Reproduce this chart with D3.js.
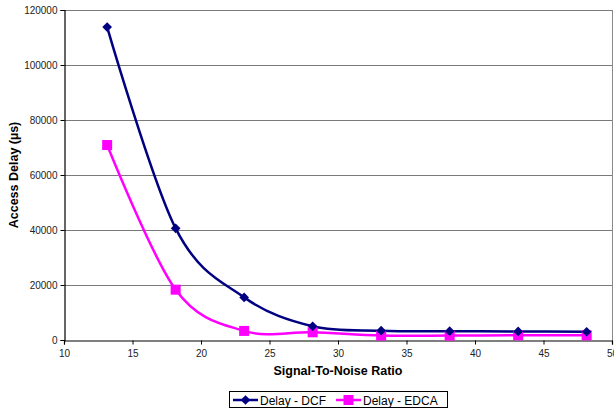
<!DOCTYPE html>
<html>
<head>
<meta charset="utf-8">
<script src="https://cdn.jsdelivr.net/npm/d3@7"></script>
<style>
  body { margin: 0; background: #fff; }
  svg text { font-family: "Liberation Sans", Arial, sans-serif; }
</style>
</head>
<body>
<div id="chart"></div>
<script>
// chart values
var snr = [13.15, 18.15, 23.15, 28.15, 33.15, 38.15, 43.15, 48.15];
var delayDCF  = [113800, 40600, 15500, 5000, 3400, 3200, 3100, 3000];
var delayEDCA = [70900, 18300, 3300, 2800, 1600, 1600, 1700, 1700];
var xTicks = [10, 15, 20, 25, 30, 35, 40, 45, 50];
var yTicks = [0, 20000, 40000, 60000, 80000, 100000, 120000];

var W = 614, H = 412;
var margin = {top: 10, left: 64, right: 2, bottom: 72},
    width  = W - margin.left - margin.right,
    height = H - margin.top - margin.bottom;

var svg = d3.select("#chart").append("svg")
    .attr("width", W)
    .attr("height", H);

var g = svg.append("g").attr("transform", "translate(" + margin.left + "," + margin.top + ")");

var x = d3.scaleLinear().domain([10, 50]).range([0, 548]),
    y = d3.scaleLinear().domain([0, 120000]).range([330, 0]);

// gridlines
g.selectAll(".hgrid").data(yTicks.filter(function(d){ return d > 0; })).enter()
  .append("line")
  .attr("class", "hgrid")
  .attr("x1", 0).attr("x2", x(50))
  .attr("y1", function(d){ return Math.round(y(d)) + 0.5; })
  .attr("y2", function(d){ return Math.round(y(d)) + 0.5; })
  .attr("stroke", "#7a7a7a")
  .attr("stroke-width", 1);

// right border
g.append("line")
  .attr("x1", Math.round(x(50)) + 0.5).attr("x2", Math.round(x(50)) + 0.5)
  .attr("y1", y(120000)).attr("y2", y(0))
  .attr("stroke", "#8a8a8a");

// axes
var yAxis = g.append("g")
  .attr("transform", "translate(0.5,0)")
  .call(d3.axisLeft(y).tickValues(yTicks).tickSize(4).tickPadding(3).tickFormat(d3.format("d")));
var xAxis = g.append("g")
  .attr("transform", "translate(0," + (Math.round(y(0)) + 0.5) + ")")
  .call(d3.axisBottom(x).tickValues(xTicks).tickSize(4).tickPadding(5).tickFormat(d3.format("d")));

[xAxis, yAxis].forEach(function(a) {
  a.select(".domain").attr("stroke", "#000").attr("stroke-width", 1.2);
  a.selectAll(".tick line").attr("stroke", "#000");
  a.selectAll("text")
    .attr("font-size", 10)
    .attr("fill", "#222")
    .style("font-family", "'Liberation Sans', Arial, sans-serif");
});

// lines
var line = d3.line()
    .x(function(d){ return x(d[0]); })
    .y(function(d){ return y(d[1]); })
    .curve(d3.curveCardinal.tension(0));

var dcf  = snr.map(function(s, i){ return [s, delayDCF[i]]; });
var edca = snr.map(function(s, i){ return [s, delayEDCA[i]]; });

g.append("path").datum(edca)
  .attr("fill", "none").attr("stroke", "#ff00ff").attr("stroke-width", 2.5)
  .attr("d", line);
g.append("path").datum(dcf)
  .attr("fill", "none").attr("stroke", "#000080").attr("stroke-width", 2.5)
  .attr("d", line);

// markers
g.selectAll(".sq").data(edca).enter().append("rect")
  .attr("x", function(d){ return x(d[0]) - 5; })
  .attr("y", function(d){ return y(d[1]) - 5; })
  .attr("width", 10).attr("height", 10)
  .attr("fill", "#ff00ff");

var diamond = d3.symbol().type(d3.symbolDiamond2).size(60);
g.selectAll(".dm").data(dcf).enter().append("path")
  .attr("transform", function(d){ return "translate(" + x(d[0]) + "," + y(d[1]) + ")"; })
  .attr("d", diamond)
  .attr("fill", "#000080");

// axis titles
svg.append("text")
  .attr("x", 338).attr("y", 375)
  .attr("text-anchor", "middle")
  .attr("font-size", 12.5).attr("font-weight", "bold")
  .text("Signal-To-Noise Ratio");

svg.append("text")
  .attr("transform", "translate(18,175) rotate(-90)")
  .attr("text-anchor", "middle")
  .attr("font-size", 12.5).attr("font-weight", "bold")
  .text("Access Delay (µs)");

// legend
var lg = svg.append("g").attr("transform", "translate(229,391)");
lg.append("rect")
  .attr("x", 0.5).attr("y", 0.5).attr("width", 218).attr("height", 16)
  .attr("fill", "#fff").attr("stroke", "#000");

var items = [
  {name: "Delay - DCF", color: "#000080", sym: "diamond", x: 4},
  {name: "Delay - EDCA", color: "#ff00ff", sym: "square", x: 107}
];
items.forEach(function(it) {
  var ig = lg.append("g").attr("transform", "translate(" + it.x + ",9)");
  ig.append("line").attr("x1", 0).attr("x2", 25).attr("stroke", it.color).attr("stroke-width", 2.5);
  if (it.sym === "diamond") {
    ig.append("path").attr("transform", "translate(12.5,0)").attr("d", diamond).attr("fill", it.color);
  } else {
    ig.append("rect").attr("x", 7.5).attr("y", -5).attr("width", 10).attr("height", 10).attr("fill", it.color);
  }
  ig.append("text").attr("x", 27).attr("y", 4.5).attr("font-size", 12).attr("fill", "#000").text(it.name);
});
</script>
</body>
</html>
